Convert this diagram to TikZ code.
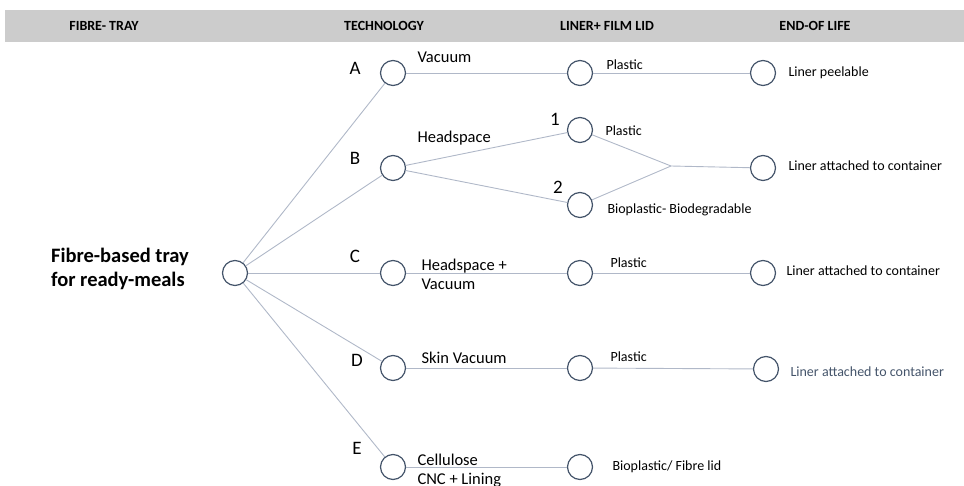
\documentclass[tikz,border=0pt]{standalone}
\usepackage{fontspec}
\setmainfont{Carlito}
\definecolor{ringc}{HTML}{44546A}
\definecolor{linkc}{HTML}{B0B8C8}
\definecolor{bandc}{HTML}{CCCCCC}
\begin{document}
\begin{tikzpicture}[x=1pt,y=-1pt,
  ring/.style={circle,draw=ringc,line width=1.2pt,minimum size=25pt,inner sep=0pt,fill=white},
  link/.style={draw=linkc,line width=0.9pt},
  head/.style={font=\fontsize{14}{16}\selectfont\bfseries,anchor=center},
  letter/.style={font=\fontsize{19}{21}\selectfont,anchor=center},
  tech/.style={font=\fontsize{16.5}{19}\selectfont,anchor=west,align=left},
  lid/.style={font=\fontsize{14}{16}\selectfont,anchor=west},
  eol/.style={font=\fontsize{14}{16}\selectfont,anchor=west}]
\useasboundingbox (0,0) rectangle (964,486);
% header band
\fill[bandc] (5,10) rectangle (964,42);
\node[head] (h1) at (104,26) {FIBRE- TRAY};
\node[head] (h2) at (384,26) {TECHNOLOGY};
\node[head] (h3) at (607,26) {LINER+ FILM LID};
\node[head] (h4) at (815,26) {END-OF LIFE};
% root label
\node[font=\fontsize{20.5}{24}\selectfont\bfseries,align=left,anchor=center] (rootlbl) at (120,269) {Fibre-based tray\\for ready-meals};
% merge point of the two B lids
\coordinate (jB) at (671,166);
% circles
\node[ring] (root) at (235,273) {};
\node[ring] (tA) at (393,73) {};
\node[ring] (tB) at (393,168) {};
\node[ring] (tC) at (393,273) {};
\node[ring] (tD) at (393,368) {};
\node[ring] (tE) at (393,467) {};
\node[ring] (lA) at (580,73) {};
\node[ring] (lB1) at (580,130) {};
\node[ring] (lB2) at (580,205) {};
\node[ring] (lC) at (580,273) {};
\node[ring] (lD) at (580,368) {};
\node[ring] (lE) at (580,467) {};
\node[ring] (eA) at (763,73) {};
\node[ring] (eB) at (763,168) {};
\node[ring] (eC) at (763,273) {};
\node[ring] (eD) at (766,369) {};
% connectors
\foreach \t in {tA,tB,tC,tD,tE}{\path[link] (root) -- (\t);}
\path[link] (tA) -- (lA);
\path[link] (lA) -- (eA);
\path[link] (tB) -- (lB1);
\path[link] (tB) -- (lB2);
\path[link] (lB1) -- (jB);
\path[link] (lB2) -- (jB);
\path[link] (jB) -- (eB);
\path[link] (tC) -- (lC);
\path[link] (lC) -- (eC);
\path[link] (tD) -- (lD);
\path[link] (lD) -- (eD);
\path[link] (tE) -- (lE);
% branch letters
\node[letter] (LA) at (355,68) {A};
\node[letter] (LB) at (355,158) {B};
\node[letter] (LC) at (355,256) {C};
\node[letter] (LD) at (357,360) {D};
\node[letter] (LE) at (357,448) {E};
\node[letter] (N1) at (555,119) {1};
\node[letter] (N2) at (558,187) {2};
% technology labels
\node[tech] (xA) at (414,57) {Vacuum};
\node[tech] (xB) at (414,138) {Headspace};
\node[tech] (xC) at (418,274) {Headspace +\\Vacuum};
\node[tech] (xD) at (418,358) {Skin Vacuum};
\node[tech] (xE) at (414,471) {Cellulose\\CNC + Lining};
% liner labels
\node[lid] (yA) at (603,65) {Plastic};
\node[lid] (yB1) at (602,131) {Plastic};
\node[lid] (yB2) at (604,210) {Bioplastic- Biodegradable};
\node[lid] (yC) at (607,263) {Plastic};
\node[lid] (yD) at (607,357) {Plastic};
\node[lid] (yE) at (609,467) {Bioplastic/ Fibre lid};
% end-of-life labels
\node[eol] (zA) at (785,73) {Liner peelable};
\node[eol] (zB) at (785,166) {Liner attached to container};
\node[eol] (zC) at (783,271) {Liner attached to container};
\node[eol,text=ringc] (zD) at (787,372) {Liner attached to container};
\end{tikzpicture}
\end{document}
